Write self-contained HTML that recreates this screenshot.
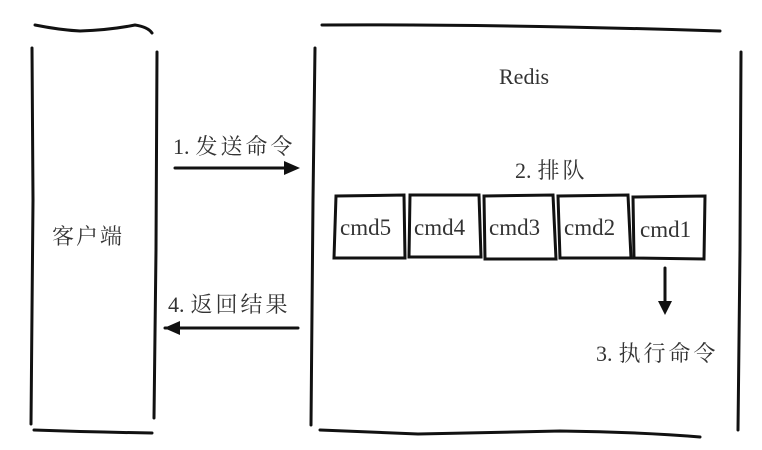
<!DOCTYPE html>
<html><head><meta charset="utf-8"><style>
html,body{margin:0;padding:0;background:#fff;width:762px;height:450px;overflow:hidden}
</style></head><body>
<svg width="762" height="450" viewBox="0 0 762 450" xmlns="http://www.w3.org/2000/svg">
<g stroke="#111" stroke-width="3" fill="none" stroke-linecap="round">
<path d="M35 25 Q60 30 80 31 Q110 30 135 25 Q148 27 152 33"/>
<path d="M32 48 L33 200 L31 424"/>
<path d="M157 52 L156 250 L154 418"/>
<path d="M34 430 Q90 432 152 433"/>
<path d="M322 25 Q500 24 720 31"/>
<path d="M315 48 L313 200 L311 425"/>
<path d="M741 52 L740 250 L738 430"/>
<path d="M320 430 L418 434 L560 431 Q640 432 700 437"/>
<path d="M175 168 L288 168"/>
<path d="M165 328 L298 328"/>
<path d="M665 268 L665 305"/>
<path d="M336 196 L404 195 L405 258 L334 258 Z"/>
<path d="M410 195 L479 195 L481 257 L409 257 Z"/>
<path d="M484 196 L553 195 L556 259 L485 259 Z"/>
<path d="M558 196 L628 195 L631 258 L560 258 Z"/>
<path d="M633 197 L705 196 L704 259 L634 258 Z"/>
</g>
<g fill="#111">
<polygon points="300,168 284,161 284,175"/>
<polygon points="164,328 180,321 180,335"/>
<polygon points="665,315 658,301 672,301"/>
</g>
<g font-family="'Liberation Serif','Noto Serif CJK SC',serif" fill="#333">
<text x="499" y="84" font-size="22">Redis</text>
<text x="173" y="154" font-size="22"><tspan>1.</tspan><tspan dx="6" letter-spacing="3">发送命令</tspan></text>
<text x="515" y="178" font-size="22"><tspan>2.</tspan><tspan dx="6" letter-spacing="3">排队</tspan></text>
<text x="168" y="312" font-size="22"><tspan>4.</tspan><tspan dx="6" letter-spacing="3">返回结果</tspan></text>
<text x="596" y="361" font-size="22"><tspan>3.</tspan><tspan dx="6" letter-spacing="3">执行命令</tspan></text>
<text x="52" y="244" font-size="22" letter-spacing="2">客户端</text>
<g font-size="23">
<text x="340" y="235">cmd5</text>
<text x="414" y="235">cmd4</text>
<text x="489" y="235">cmd3</text>
<text x="564" y="235">cmd2</text>
<text x="640" y="237">cmd1</text>
</g>
</g>
</svg>
</body></html>
